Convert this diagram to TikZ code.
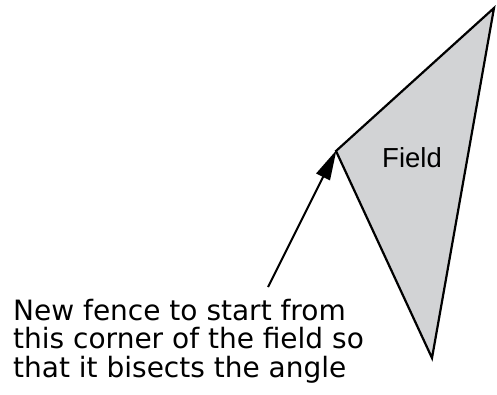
\documentclass[tikz,border=0pt]{standalone}
\usepackage{fontspec}
\setmainfont{DejaVu Sans}
\newfontfamily\fieldfont{Liberation Sans}
\usetikzlibrary{arrows.meta}
\definecolor{fieldgray}{RGB}{210,211,213}
\begin{document}
\begin{tikzpicture}[x=1pt,y=-1pt,
  fence/.style={line width=2.2pt,line join=miter},
  pointer/.style={line width=2pt,-{Triangle[length=30pt,width=15pt]},shorten >=-1pt},
  note/.style={anchor=base west,inner sep=0pt,font=\fontsize{28}{28.5}\selectfont,align=left}]
\useasboundingbox (0,0) rectangle (497,394);
\coordinate (T) at (494,8);
\coordinate (L) at (336,151);
\coordinate (B) at (432,358);
\filldraw[fence,fill=fieldgray] (T) -- (L) -- (B) -- cycle;
\node[font=\fieldfont\fontsize{27.5}{30}\selectfont,anchor=base west,inner sep=0pt] (field) at (382,167) {Field};
\coordinate (tail) at (268,287);
\draw[pointer] (tail) -- (L);
\node[note] (n1) at (13,320) {New fence to start from};
\node[note] (n2) at (13,348.5) {this corner of the field so};
\node[note] (n3) at (13,377) {that it bisects the angle};
\end{tikzpicture}
\end{document}
